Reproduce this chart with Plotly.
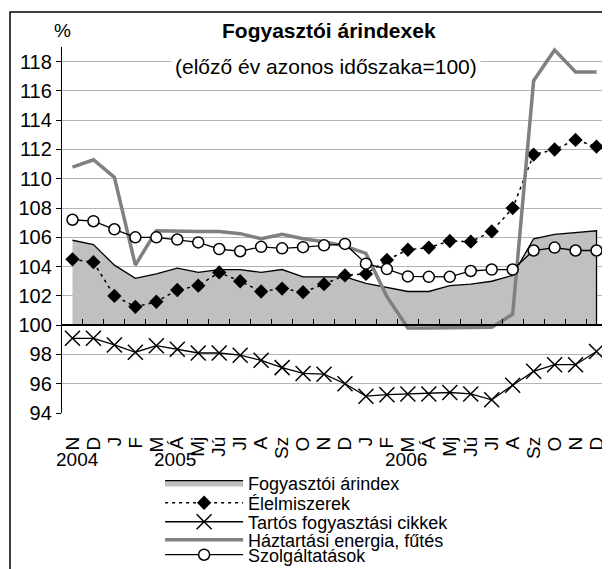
import plotly.graph_objects as go

# havi adatok, 2004 november - 2006 december
honapok = ["N", "D", "J", "F", "M", "Á", "Mj", "Jú", "Jl", "A", "Sz", "O", "N",
           "D", "J", "F", "M", "Á", "Mj", "Jú", "Jl", "A", "Sz", "O", "N", "D"]
evek = ["2004", "2005", "2006"]
ev_hely = [0.25, 4.9, 15.9]

fogyasztoi = [105.8, 105.5, 104.1, 103.2, 103.5, 103.9, 103.6, 103.8, 103.8, 103.6, 103.8, 103.3, 103.3,
              103.3, 102.85, 102.55, 102.3, 102.3, 102.7, 102.8, 103.0, 103.4, 105.9, 106.2, 106.3, 106.45]
elelmiszer = [104.5, 104.3, 102.0, 101.25, 101.6, 102.4, 102.7, 103.6, 103.0, 102.3, 102.5, 102.25, 102.8,
              103.4, 103.5, 104.45, 105.15, 105.3, 105.75, 105.7, 106.4, 108.0, 111.65, 112.0, 112.65, 112.2]
tartos = [99.1, 99.1, 98.65, 98.15, 98.6, 98.35, 98.1, 98.1, 97.95, 97.6, 97.1, 96.7, 96.65,
          96.0, 95.15, 95.25, 95.3, 95.3, 95.4, 95.3, 94.9, 95.9, 96.85, 97.3, 97.3, 98.2]
energia = [110.8, 111.3, 110.1, 104.1, 106.45, 106.4, 106.4, 106.4, 106.25, 105.9, 106.2, 105.9, 105.7,
           105.4, 104.9, 101.95, 99.8, 99.8, 99.8, 99.8, 99.85, 100.75, 116.7, 118.8, 117.3, 117.3]
szolgaltatas = [107.2, 107.1, 106.55, 106.0, 106.0, 105.85, 105.65, 105.2, 105.05, 105.35, 105.25, 105.33, 105.45,
                105.55, 104.2, 103.83, 103.33, 103.3, 103.3, 103.7, 103.8, 103.8, 105.1, 105.3, 105.1, 105.1]

idx = list(range(len(honapok)))
alap = 100
ymin, ymax = 94, 119
betu = "Liberation Sans, Arial, sans-serif"

fig = go.Figure()

# terület 100-tól
fig.add_trace(go.Scatter(
    x=idx + idx[::-1], y=fogyasztoi + [alap] * len(idx),
    fill="toself", fillcolor="#c0c0c0", mode="lines",
    line=dict(color="black", width=1.3), name="Fogyasztói árindex",
    legend="legend"))
fig.add_trace(go.Scatter(
    x=idx, y=elelmiszer, mode="lines+markers", name="Élelmiszerek",
    line=dict(color="black", width=1.5, dash="3px,4px"),
    marker=dict(symbol="diamond", size=11, color="black"), legend="legend2"))
fig.add_trace(go.Scatter(
    x=idx, y=tartos, mode="lines+markers", name="Tartós fogyasztási cikkek",
    line=dict(color="black", width=1.3),
    marker=dict(symbol="x-thin", size=15, line=dict(color="black", width=1.5)),
    legend="legend3"))
fig.add_trace(go.Scatter(
    x=idx, y=energia, mode="lines", name="Háztartási energia, fűtés",
    line=dict(color="#808080", width=3.5), legend="legend4"))
fig.add_trace(go.Scatter(
    x=idx, y=szolgaltatas, mode="lines+markers", name="Szolgáltatások",
    line=dict(color="black", width=1.3),
    marker=dict(symbol="circle", size=11, color="white", line=dict(color="black", width=1.5)),
    legend="legend5", xaxis="x2"))

# egy-egy jelmagyarázat soronként, hogy a sorok sűrűn legyenek
sor_y = [-0.191, -0.246, -0.298, -0.347, -0.388]
jelm = dict(x=0.18, xanchor="left", yanchor="middle", font=dict(size=18),
            itemwidth=78, bgcolor="rgba(0,0,0,0)")
legendek = {("legend" if i == 0 else "legend%d" % (i + 1)): dict(jelm, y=yy)
            for i, yy in enumerate(sor_y)}

fig.update_layout(
    width=602, height=561,
    margin=dict(l=54, r=3, t=39, b=156, autoexpand=False),
    paper_bgcolor="white", plot_bgcolor="white",
    font=dict(family=betu, size=19, color="black"),
    showlegend=True,
    xaxis=dict(range=[-0.5, len(idx) - 0.5], anchor="free",
               position=(alap - ymin) / (ymax - ymin),
               tickmode="array", tickvals=[i - 0.5 for i in idx] + [len(idx) - 0.5],
               ticks="inside", ticklen=5, tickcolor="black", showticklabels=False,
               showline=True, linecolor="black", linewidth=1.5, showgrid=False, zeroline=False),
    xaxis2=dict(overlaying="x", matches="x", anchor="y", side="bottom",
                tickmode="array", tickvals=idx, ticktext=honapok,
                tickangle=-90, ticks="", showline=False, showgrid=False, zeroline=False,
                ticklabelstandoff=19, tickfont=dict(size=19)),
    yaxis=dict(range=[ymin, ymax], tickmode="array", tickvals=list(range(94, 119, 2)),
               ticks="outside", ticklen=5, tickcolor="black",
               showline=True, linecolor="black", linewidth=1.3,
               showgrid=True, gridcolor="#b4b4b4", gridwidth=1, zeroline=False,
               tickfont=dict(size=20)),
    **legendek,
)

# cím, alcím, mértékegység
felirat = dict(xref="paper", yref="paper", showarrow=False, xanchor="center", yanchor="middle")
fig.add_annotation(text="<b>Fogyasztói árindexek</b>", x=0.49, y=1.046,
                   font=dict(size=21), **felirat)
fig.add_annotation(text="(előző év azonos időszaka=100)", x=0.484, y=0.948,
                   font=dict(size=21), bgcolor="white", borderpad=3, **felirat)
fig.add_annotation(text="%", x=0.0, y=1.046, font=dict(size=19), **felirat)

for ev, hely in zip(evek, ev_hely):
    fig.add_annotation(text=ev, xref="x", yref="paper", x=hely, y=-0.128,
                       showarrow=False, xanchor="center", yanchor="middle",
                       font=dict(size=19))

# keret
fig.add_shape(type="rect", xref="paper", yref="paper", x0=-0.0954, x1=1.02,
              y0=-0.5, y1=1.0956, line=dict(color="black", width=1.5), layer="above")

fig.write_html("out.html")
